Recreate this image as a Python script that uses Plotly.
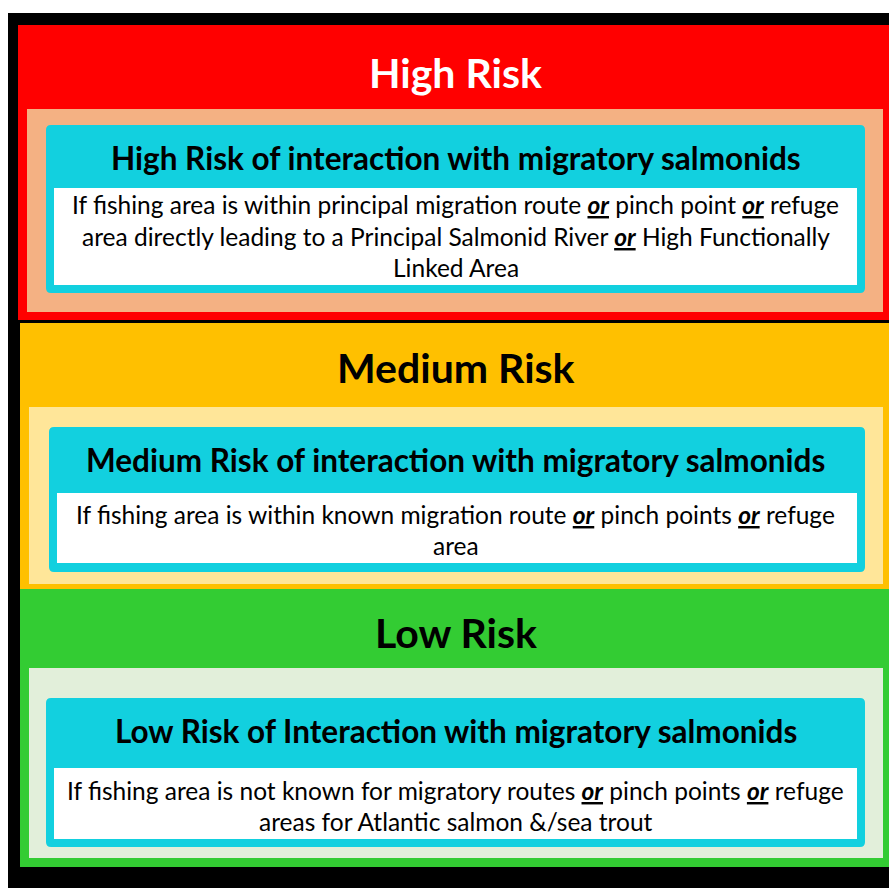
import plotly.graph_objects as go

# ---- content ----
section_titles = ["High Risk", "Medium Risk", "Low Risk"]
title_colors = ["#FFFFFF", "#000000", "#000000"]
headings = [
    "High Risk of interaction with migratory salmonids",
    "Medium Risk of interaction with migratory salmonids",
    "Low Risk of Interaction with migratory salmonids",
]
OR = "<u><b><i>or</i></b></u>"
body_lines = [
    [f"If fishing area is within principal migration route {OR} pinch point {OR} refuge",
     f"area directly leading to a Principal Salmonid River {OR} High Functionally",
     "Linked Area"],
    [f"If fishing area is within known migration route {OR} pinch points {OR} refuge",
     "area"],
    [f"If fishing area is not known for migratory routes {OR} pinch points {OR} refuge",
     "areas for Atlantic salmon &/sea trout"],
]
band_colors = ["#FF0000", "#FFC000", "#33CC33"]
panel_colors = ["#F4B183", "#FFE699", "#E2EFDA"]
card_color = "#12D0DF"

# ---- geometry (canvas pixels) ----
W, H = 889, 888
bands = [(18, 25, 889, 320), (20, 323, 889, 589), (20, 589, 889, 867)]
panels = [(27, 109, 883, 312), (29, 407, 883, 584), (29, 668, 883, 858)]
cards = [(46, 125, 865, 293), (49, 427, 865, 572), (46, 698, 865, 847)]
whites = [(54, 188, 857, 285), (57, 493, 857, 563), (54, 768, 857, 839)]
title_y = [72, 367, 632]
head_y = [158, 460, 731]
body_y = [[204, 236, 267], [514, 545], [790, 821]]
CX = 455.5

def rect(b, color):
    x0, y0, x1, y1 = b
    return dict(type="rect", xref="x", yref="y", x0=x0, y0=y0, x1=x1, y1=y1,
                fillcolor=color, line=dict(width=0), layer="below")

def rrect(b, color, r=5):
    x0, y0, x1, y1 = b
    p = (f"M{x0+r},{y0} L{x1-r},{y0} Q{x1},{y0} {x1},{y0+r} L{x1},{y1-r} "
         f"Q{x1},{y1} {x1-r},{y1} L{x0+r},{y1} Q{x0},{y1} {x0},{y1-r} "
         f"L{x0},{y0+r} Q{x0},{y0} {x0+r},{y0} Z")
    return dict(type="path", xref="x", yref="y", path=p, fillcolor=color,
                line=dict(width=0), layer="below")

shapes = [rect((8, 13, W + 2, H + 2), "#000000")]
for i in range(3):
    shapes.append(rect((bands[i][0], bands[i][1], bands[i][2] + 2, bands[i][3]), band_colors[i]))
    shapes.append(rect(panels[i], panel_colors[i]))
    shapes.append(rrect(cards[i], card_color))
    shapes.append(rect(whites[i], "#FFFFFF"))

FONT = "Lato, 'Open Sans', sans-serif"
annotations = []
for i in range(3):
    annotations.append(dict(x=CX, y=title_y[i], xref="x", yref="y", showarrow=False,
                            text=f"<b>{section_titles[i]}</b>", xanchor="center", yanchor="middle",
                            font=dict(family=FONT, size=41, color=title_colors[i])))
    annotations.append(dict(x=CX, y=head_y[i], xref="x", yref="y", showarrow=False,
                            text=f"<b>{headings[i]}</b>", xanchor="center", yanchor="middle",
                            font=dict(family=FONT, size=31.5, color="#000000")))
    for line, yy in zip(body_lines[i], body_y[i]):
        annotations.append(dict(x=CX, y=yy, xref="x", yref="y", showarrow=False,
                                text=line, xanchor="center", yanchor="middle",
                                font=dict(family=FONT, size=24.5, color="#000000")))

fig = go.Figure()
fig.add_trace(go.Scatter(x=[0, W], y=[0, H], mode="markers",
                         marker=dict(opacity=0), hoverinfo="skip", showlegend=False))
fig.update_layout(
    width=W, height=H, margin=dict(l=0, r=0, t=0, b=0),
    paper_bgcolor="#FFFFFF", plot_bgcolor="#FFFFFF",
    xaxis=dict(range=[0, W], visible=False, fixedrange=True),
    yaxis=dict(range=[H, 0], visible=False, fixedrange=True),
    shapes=shapes, annotations=annotations, showlegend=False,
)
fig.write_html(
    "out.html",
    config={"displayModeBar": False},
    post_script="document.body.style.margin='0';document.body.style.overflow='hidden';",
)
